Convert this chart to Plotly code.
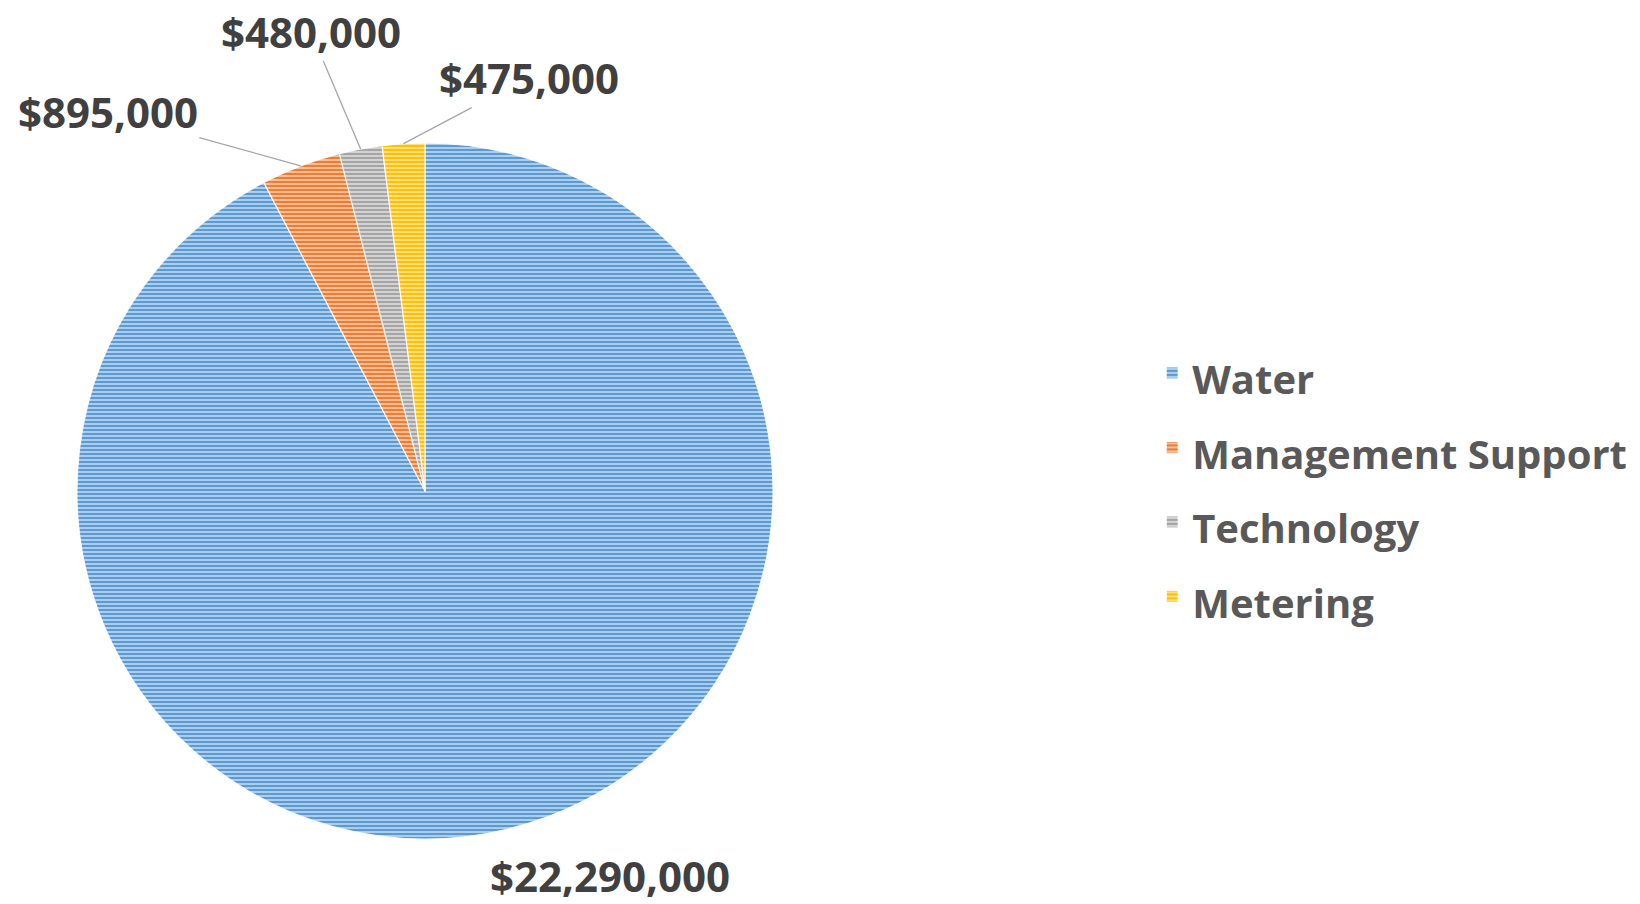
import math
import plotly.graph_objects as go

# ---- data ----
categories = ["Water", "Management Support", "Technology", "Metering"]
values = [22290000, 895000, 480000, 475000]
colors = ["#5B9BD5", "#ED7D31", "#A5A5A5", "#FFC000"]
gap_colors = ["#dce9f6", "#fbe2d2", "#ececec", "#fff1c8"]

# ---- layout constants (pixels); the page body adds an 8px margin ----
W, H = 1632, 896
CX, CY, R = 417, 483, 348
# label offsets from slice-edge anchor (pixels; ax, ay)
label_offsets = [(102, 47), (-193, -54), (-50, -118), (125, -66)]
show_leader = [False, True, True, True]

legend_labels = ['<span style="font-size:40px">{}</span>'.format(c) for c in categories]

fig = go.Figure()
fig.add_trace(go.Pie(
    labels=legend_labels,
    values=values,
    sort=False,
    direction="clockwise",
    rotation=0,
    textinfo="none",
    hoverinfo="value",
    marker=dict(
        colors=colors,
        line=dict(color="rgba(255,255,255,0.85)", width=1.2),
        pattern=dict(shape="-", fgcolor=colors, bgcolor=gap_colors,
                     size=4, solidity=0.68, fillmode="replace"),
    ),
    domain=dict(x=[(CX - R) / W, (CX + R) / W],
                y=[(H - CY - R) / H, (H - CY + R) / H]),
))

# data labels computed from the slice mid-angles
total = sum(values)
cum = 0.0
annotations = []
for v, (ax, ay), lead in zip(values, label_offsets, show_leader):
    mid = (cum + v / 2) / total * 2 * math.pi
    cum += v
    px = CX + R * math.sin(mid)
    py = CY - R * math.cos(mid)
    annotations.append(dict(
        x=px / W, y=1 - py / H, xref="paper", yref="paper",
        text="${:,}".format(v),
        showarrow=True, arrowhead=0, arrowwidth=1.3,
        arrowcolor="#A6A6A6" if lead else "rgba(0,0,0,0)",
        ax=ax, ay=ay, axref="pixel", ayref="pixel",
        font=dict(family="Open Sans", size=42, color="#404040", weight="bold"),
        standoff=0,
    ))

fig.update_layout(
    width=W, height=H,
    margin=dict(l=0, r=0, t=0, b=0),
    paper_bgcolor="white",
    plot_bgcolor="white",
    showlegend=True,
    legend=dict(
        x=0.7011, xanchor="left", y=0.468, yanchor="middle",
        font=dict(family="Open Sans", size=55, color="#595959", weight="bold"),
        bgcolor="rgba(0,0,0,0)",
    ),
    annotations=annotations,
)

fig.write_html("out.html")
